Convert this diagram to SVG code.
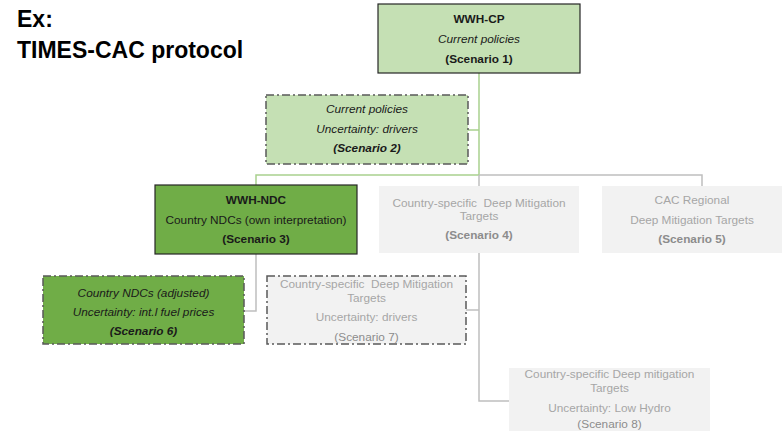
<svg xmlns="http://www.w3.org/2000/svg" width="783" height="431" viewBox="0 0 783 431">
<style>
text{font-family:"Liberation Sans",Arial,sans-serif;font-size:11.8px;text-anchor:middle}
.title{font-size:23px;font-weight:bold;text-anchor:start;fill:#000}
.dk{fill:#1a1a1a}
.gr{fill:#a6a6a6}
.gd{fill:#8c8c8c}
.b{font-weight:bold}
.i{font-style:italic}
.lg{fill:#c5e0b4}
.dg{fill:#70ad47}
.gy{fill:#f2f2f2;stroke:none}
.solid{stroke:#262626;stroke-width:1.2}
.dash{stroke:#595959;stroke-width:1.5;stroke-dasharray:8 3 2 3}
.cg{fill:none;stroke:#a9d18e;stroke-width:1.5}
.cy{fill:none;stroke:#bfbfbf;stroke-width:1.5}
</style>
<text class="title" x="17" y="27">Ex:</text>
<text class="title" x="17" y="58">TIMES-CAC protocol</text>
<g id="connectors">
<polyline class="cg" points="479,73 479,175 256,175 256,185"/>
<line class="cg" x1="468" y1="130" x2="479" y2="130"/>
<polyline class="cy" points="479,175 702,175 702,186"/>
<line class="cy" x1="479" y1="175" x2="479" y2="186"/>
<polyline class="cy" points="256,254 256,311 244,311"/>
<polyline class="cy" points="479,253 479,401 509,401"/>
<line class="cy" x1="466" y1="310" x2="479" y2="310"/>
</g>
<g id="s1">
<rect class="lg solid" x="378" y="4" width="202" height="69"/>
<text class="dk b" x="479" y="23">WWH-CP</text>
<text class="dk i" x="479" y="43">Current policies</text>
<text class="dk b" x="479" y="63">(Scenario 1)</text>
</g>
<g id="s2">
<rect class="lg dash" x="266" y="95" width="202" height="69"/>
<text class="dk i" x="367" y="113">Current policies</text>
<text class="dk i" x="367" y="133">Uncertainty: drivers</text>
<text class="dk i b" x="367" y="152">(Scenario 2)</text>
</g>
<g id="s3">
<rect class="dg solid" x="155" y="185" width="202" height="69"/>
<text class="dk b" x="256" y="204">WWH-NDC</text>
<text class="dk" x="256" y="224">Country NDCs (own interpretation)</text>
<text class="dk b" x="256" y="243">(Scenario 3)</text>
</g>
<g id="s4">
<rect class="gy" x="379" y="186" width="200" height="67"/>
<text class="gr" x="479" y="207" xml:space="preserve">Country-specific  Deep Mitigation</text>
<text class="gr" x="479" y="220">Targets</text>
<text class="gd b" x="479" y="239">(Scenario 4)</text>
</g>
<g id="s5">
<rect class="gy" x="602" y="186" width="180" height="67"/>
<text class="gr" x="692" y="204">CAC Regional</text>
<text class="gr" x="692" y="224">Deep Mitigation Targets</text>
<text class="gd b" x="692" y="243">(Scenario 5)</text>
</g>
<g id="s6">
<rect class="dg dash" x="43" y="276" width="201" height="68"/>
<text class="dk i" x="143.5" y="297">Country NDCs (adjusted)</text>
<text class="dk i" x="143.5" y="316">Uncertainty: int.l fuel prices</text>
<text class="dk i b" x="143.5" y="335">(Scenario 6)</text>
</g>
<g id="s7">
<rect class="gy" x="267" y="276" width="199" height="68"/>
<rect class="dash" fill="none" x="267" y="276" width="199" height="68"/>
<text class="gr" x="366.5" y="288" xml:space="preserve">Country-specific  Deep Mitigation</text>
<text class="gr" x="366.5" y="302">Targets</text>
<text class="gr" x="366.5" y="321">Uncertainty: drivers</text>
<text class="gd" x="366.5" y="341">(Scenario 7)</text>
</g>
<g id="s8">
<rect class="gy" x="509" y="368" width="201" height="70"/>
<text class="gr" x="609.5" y="378">Country-specific Deep mitigation</text>
<text class="gr" x="609.5" y="392">Targets</text>
<text class="gr" x="609.5" y="412">Uncertainty: Low Hydro</text>
<text class="gd" x="609.5" y="428">(Scenario 8)</text>
</g>
</svg>
